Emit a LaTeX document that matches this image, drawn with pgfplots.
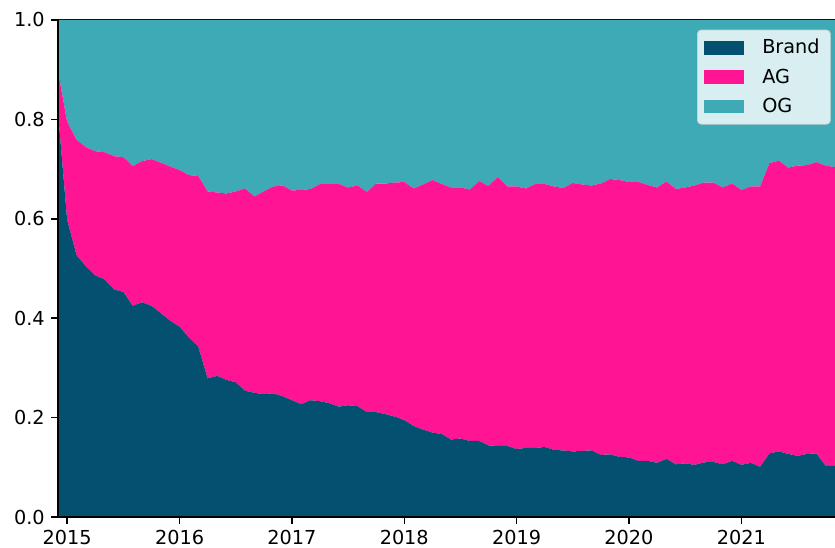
\documentclass[border=0pt]{standalone}
\usepackage{fontspec}
\setmainfont{DejaVu Sans}
\usepackage{pgfplots}
\pgfplotsset{compat=1.18}
\usepackage{pgfplotstable}
\definecolor{brand}{RGB}{4,80,112}
\definecolor{ag}{RGB}{255,20,147}
\definecolor{og}{RGB}{61,170,181}
\definecolor{legfill}{RGB}{216,238,240}
\definecolor{legdraw}{RGB}{196,210,212}

\pgfplotstableread{
i brand ag og
0 0.820 0.080 0.100
1 0.598 0.197 0.205
2 0.527 0.232 0.241
3 0.504 0.240 0.256
4 0.486 0.250 0.264
5 0.478 0.256 0.266
6 0.458 0.268 0.274
7 0.453 0.271 0.276
8 0.425 0.281 0.294
9 0.432 0.284 0.284
10 0.425 0.295 0.280
11 0.410 0.303 0.287
12 0.395 0.310 0.295
13 0.383 0.315 0.302
14 0.361 0.327 0.312
15 0.343 0.343 0.314
16 0.279 0.376 0.345
17 0.284 0.369 0.347
18 0.276 0.375 0.349
19 0.271 0.384 0.345
20 0.254 0.407 0.339
21 0.250 0.395 0.355
22 0.247 0.408 0.345
23 0.249 0.416 0.335
24 0.243 0.424 0.333
25 0.235 0.422 0.343
26 0.227 0.431 0.342
27 0.235 0.425 0.340
28 0.233 0.437 0.330
29 0.229 0.441 0.330
30 0.222 0.448 0.330
31 0.225 0.438 0.337
32 0.223 0.444 0.333
33 0.211 0.443 0.346
34 0.211 0.460 0.329
35 0.207 0.464 0.329
36 0.202 0.471 0.327
37 0.195 0.479 0.326
38 0.183 0.478 0.339
39 0.176 0.493 0.331
40 0.170 0.508 0.322
41 0.167 0.503 0.330
42 0.156 0.507 0.337
43 0.158 0.505 0.337
44 0.153 0.506 0.341
45 0.153 0.523 0.324
46 0.144 0.522 0.334
47 0.143 0.541 0.316
48 0.143 0.522 0.335
49 0.137 0.528 0.335
50 0.139 0.522 0.339
51 0.139 0.531 0.330
52 0.141 0.529 0.330
53 0.135 0.530 0.335
54 0.134 0.528 0.338
55 0.132 0.540 0.328
56 0.133 0.536 0.331
57 0.134 0.533 0.333
58 0.125 0.546 0.329
59 0.126 0.554 0.320
60 0.121 0.557 0.322
61 0.120 0.554 0.326
62 0.113 0.561 0.326
63 0.113 0.555 0.332
64 0.109 0.554 0.337
65 0.117 0.558 0.325
66 0.106 0.554 0.340
67 0.108 0.555 0.337
68 0.105 0.562 0.333
69 0.110 0.563 0.327
70 0.111 0.562 0.327
71 0.106 0.557 0.337
72 0.113 0.558 0.329
73 0.105 0.553 0.342
74 0.109 0.556 0.335
75 0.101 0.564 0.335
76 0.128 0.584 0.288
77 0.132 0.585 0.283
78 0.127 0.576 0.297
79 0.123 0.584 0.293
80 0.127 0.581 0.292
81 0.128 0.586 0.286
82 0.103 0.604 0.293
83 0.103 0.601 0.296
}\data

\begin{document}
\begin{tikzpicture}
\begin{axis}[name=ax, scale only axis, width=419.7pt, height=268.4pt,
  xmin=0, xmax=83, ymin=0, ymax=1,
  stack plots=y,
  axis on top,
  axis x line*=bottom, axis y line*=left,
  axis line style={line width=0.8pt, black},
  tick align=outside,
  major tick length=3.5pt,
  tick style={black, line width=0.8pt},
  tick label style={font=\fontsize{10.4}{12.5}\selectfont},
  xtick={1,13,25,37,49,61,73},
  xticklabels={2015,2016,2017,2018,2019,2020,2021},
  ytick={0,0.2,0.4,0.6,0.8,1},
  yticklabel style={/pgf/number format/.cd, fixed, fixed zerofill, precision=1},
  /pgf/number format/assume math mode=true,
  legend style={at={(0.9945,0.9805)}, anchor=north east, fill=legfill, draw=legdraw,
    rounded corners=2pt, inner xsep=3.8pt, inner ysep=2.9pt, row sep=2.6pt,
    font=\fontsize{10.4}{12.5}\selectfont},
  legend cell align=left,
  legend image code/.code={\fill[#1, sharp corners] (0pt,-3.7pt) rectangle (21.6pt,3.7pt);
    \path (29.2pt,0pt);},
]
\addplot[fill=brand, draw=none] table[x=i,y=brand]{\data} \closedcycle;
\addplot[fill=ag, draw=none] table[x=i,y=ag]{\data} \closedcycle;
\addplot[fill=og, draw=none] table[x=i,y=og]{\data} \closedcycle;
\draw[line width=0.8pt, black] (rel axis cs:0,1) -- (rel axis cs:1,1);
\legend{Brand,AG,OG}
\end{axis}
\pgfresetboundingbox
\path[use as bounding box] ([xshift=-31.2pt,yshift=-16.7pt]ax.south west) rectangle ([yshift=10.8pt]ax.north east);
\end{tikzpicture}
\end{document}
